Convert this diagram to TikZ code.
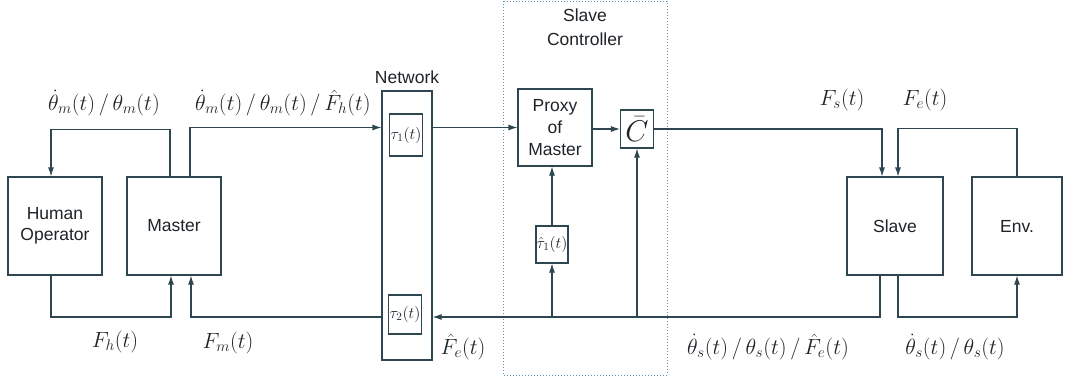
\documentclass[tikz,border=0pt]{standalone}
\usepackage{fix-cm}
\usepackage{amsmath}
\usepackage{fontspec}
\setmainfont{Liberation Sans}
\usetikzlibrary{positioning,arrows.meta}
\definecolor{linecol}{RGB}{45,70,80}
\definecolor{ctrlcol}{RGB}{95,150,180}
\definecolor{txtcol}{RGB}{30,35,40}
\begin{document}
\begin{tikzpicture}[x=1pt, y=-1pt, >={Latex[length=9pt,width=6pt]}, line width=1.1pt, color=linecol,
    every node/.style={text=txtcol, font=\fontsize{17.5}{21}\selectfont},
    blk/.style={draw, align=center, minimum width=94pt, minimum height=98pt},
    dly/.style={draw, inner sep=0pt, font=\fontsize{16}{18}\selectfont},
    mlab/.style={inner sep=1pt, font=\fontsize{22}{26}\selectfont}]
    \useasboundingbox (0,0) rectangle (1066,383);
    % helper level for the long feedback line
    \coordinate (bot) at (0,317);

    % operator side
    \node[blk] (human) at (55,226) {Human\\Operator};
    \node[blk] (master) at (174,226) {Master};

    % network with the two delays
    \node[draw, minimum width=50pt, minimum height=269pt] (net) at (407,225.5) {};
    \node[above=3pt of net] (netlab) {Network};
    \node[dly, minimum width=33pt, minimum height=42pt] (tau1) at (406,135) {$\tau_1(t)$};
    \node[dly, minimum width=33pt, minimum height=39pt] (tau2) at (405,314.5) {$\tau_2(t)$};

    % slave controller
    \draw[ctrlcol, dotted, line width=1pt] (503,1) rectangle (667,375);
    \node[align=center, font=\fontsize{17.5}{24}\selectfont] (ctrllab) at (585,27) {Slave\\Controller};
    \node[draw, align=center, minimum width=74pt, minimum height=77pt, font=\fontsize{17.5}{22}\selectfont] (proxy) at (555,127.5) {Proxy\\of\\Master};
    \node[draw, inner sep=0pt, minimum width=33pt, minimum height=38pt, font=\fontsize{30}{32}\selectfont] (cbar) at (637,129) {$\bar{C}$};
    \node[dly, minimum width=32pt, minimum height=37pt] (tauhat) at (552,244.5) {$\hat{\tau}_1(t)$};

    % slave side
    \node[blk, minimum width=96pt] (slave) at (895,226) {Slave};
    \node[blk, minimum width=90pt] (env) at (1017,226) {Env.};

    % forward path
    \draw[->] ([xshift=-4pt]master.north) -- ++(0,-47) -| ([xshift=-4pt]human.north);
    \draw[->] ([xshift=16pt]master.north) |- (net.west |- proxy.west);
    \draw[->] (net.east |- proxy.west) -- (proxy.west);
    \draw[->] (proxy.east |- cbar.west) -- (cbar.west);
    \draw[->] (cbar.east) -| ([xshift=-13pt]slave.north);
    \draw[->] (env.north) -- ++(0,-48) -| ([xshift=3pt]slave.north);

    % feedback path
    \draw[->] ([xshift=-15pt]slave.south) |- (net.east |- bot);
    \draw[->] (tauhat.south |- bot) -- (tauhat.south);
    \draw[->] (cbar.south |- bot) -- (cbar.south);
    \draw[->] (tauhat.north) -- (tauhat.north |- proxy.south);
    \draw[->] (net.west |- bot) -| ([xshift=17pt]master.south);
    \draw[->] ([xshift=-4pt]human.south) |- ([xshift=-3pt]master.south |- bot) -- ([xshift=-3pt]master.south);
    \draw[->] ([xshift=3pt]slave.south) |- (env.south |- bot) -- (env.south);

    % signal labels
    \node[mlab] (lab1) at (104,103) {$\dot{\theta}_m(t)\,/\,\theta_m(t)$};
    \node[mlab] (lab2) at (283,103) {$\dot{\theta}_m(t)\,/\,\theta_m(t)\,/\,\hat{F}_h(t)$};
    \node[mlab] (lab3) at (842,100) {$F_s(t)$};
    \node[mlab] (lab4) at (925,100) {$F_e(t)$};
    \node[mlab] (lab5) at (115,342) {$F_h(t)$};
    \node[mlab] (lab6) at (228,343) {$F_m(t)$};
    \node[mlab] (lab7) at (463,347) {$\hat{F}_e(t)$};
    \node[mlab] (lab8) at (768,347) {$\dot{\theta}_s(t)\,/\,\theta_s(t)\,/\,\hat{F}_e(t)$};
    \node[mlab] (lab9) at (955,347) {$\dot{\theta}_s(t)\,/\,\theta_s(t)$};
\end{tikzpicture}
\end{document}
